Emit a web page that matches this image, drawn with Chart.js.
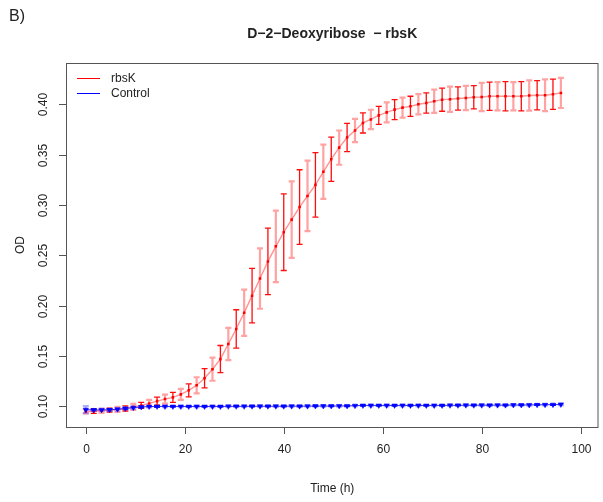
<!DOCTYPE html>
<html>
<head>
<meta charset="utf-8">
<script src="https://cdn.jsdelivr.net/npm/chart.js@4.4.0/dist/chart.umd.min.js"></script>
<style>
  body { margin: 0; background: #fff; }
  canvas { display: block; }
</style>
</head>
<body>
<canvas id="growth" width="603" height="502"></canvas>
<script>
// Growth curve data (OD readings every 1.6 h)
const timeH = [0, 1.6, 3.2, 4.8, 6.4, 8, 9.6, 11.2, 12.8, 14.4, 16, 17.6, 19.2, 20.8, 22.4, 24, 25.6, 27.2, 28.8, 30.4,
  32, 33.6, 35.2, 36.8, 38.4, 40, 41.6, 43.2, 44.8, 46.4, 48, 49.6, 51.2, 52.8, 54.4, 56, 57.6, 59.2, 60.8, 62.4,
  64, 65.6, 67.2, 68.8, 70.4, 72, 73.6, 75.2, 76.8, 78.4, 80, 81.6, 83.2, 84.8, 86.4, 88, 89.6, 91.2, 92.8, 94.4, 96];

const rbsK = [0.0950, 0.0952, 0.0957, 0.0963, 0.0970, 0.0980, 0.0995, 0.1010, 0.1030, 0.1053, 0.1073, 0.1090, 0.1120,
  0.1160, 0.1210, 0.1280, 0.1370, 0.1470, 0.1620, 0.1770, 0.1930, 0.2100, 0.2270, 0.2440, 0.2590, 0.2730, 0.2855,
  0.2980, 0.3090, 0.3200, 0.3330, 0.3455, 0.3570, 0.3670, 0.3740, 0.3815, 0.3850, 0.3890, 0.3920, 0.3947, 0.3967,
  0.3980, 0.4000, 0.4013, 0.4030, 0.4046, 0.4050, 0.4057, 0.4063, 0.4070, 0.4073, 0.4080, 0.4080, 0.4080, 0.4080,
  0.4080, 0.4087, 0.4090, 0.4090, 0.4100, 0.4113];

const rbsKErr = [0.002, 0.002, 0.002, 0.002, 0.0025, 0.0025, 0.003, 0.003, 0.0035, 0.004, 0.0045, 0.005, 0.0055,
  0.0065, 0.008, 0.0095, 0.0115, 0.0135, 0.016, 0.019, 0.023, 0.027, 0.030, 0.033, 0.0355, 0.038, 0.038,
  0.037, 0.035, 0.032, 0.027, 0.022, 0.017, 0.014, 0.0115, 0.010, 0.0096, 0.009, 0.010, 0.010, 0.010,
  0.010, 0.010, 0.010, 0.0115, 0.0115, 0.0125, 0.0115, 0.012, 0.0115, 0.014, 0.014, 0.014, 0.0145, 0.014,
  0.0145, 0.015, 0.0145, 0.0157, 0.015, 0.015];

const control = [0.0968, 0.0965, 0.0966, 0.0967, 0.0972, 0.0980, 0.0988, 0.0995, 0.0999, 0.1000, 0.1000, 0.1000,
  0.1000, 0.1000, 0.1000, 0.1000, 0.1000, 0.1000, 0.1001, 0.1001, 0.1001, 0.1002, 0.1002, 0.1002, 0.1002, 0.1002,
  0.1003, 0.1003, 0.1003, 0.1004, 0.1004, 0.1004, 0.1005, 0.1005, 0.1008, 0.1010, 0.1010, 0.1010, 0.1010, 0.1010,
  0.1010, 0.1010, 0.1010, 0.1010, 0.1010, 0.1010, 0.1011, 0.1011, 0.1012, 0.1012, 0.1012, 0.1013, 0.1013, 0.1013,
  0.1014, 0.1014, 0.1015, 0.1016, 0.1017, 0.1018, 0.1020];

const controlErr = [0.0035, 0.001, 0.001, 0.001, 0.001, 0.001, 0.001, 0.0008, 0.0008, 0.0008, 0.0006, 0.0006,
  0.0006, 0.0006, 0.0006, 0.0006, 0.0006, 0.0006, 0.0006, 0.0006, 0.0006, 0.0006, 0.0006, 0.0006, 0.0006, 0.0006,
  0.0006, 0.0006, 0.0006, 0.0006, 0.0006, 0.0006, 0.0006, 0.0006, 0.0006, 0.0006, 0.0006, 0.0006, 0.0006, 0.0006,
  0.0006, 0.0006, 0.0006, 0.0006, 0.0006, 0.0006, 0.0006, 0.0006, 0.0006, 0.0006, 0.0006, 0.0006, 0.0006, 0.0006,
  0.0006, 0.0006, 0.0006, 0.0006, 0.0006, 0.0006, 0.0008];

const xTicks = [0, 20, 40, 60, 80, 100];
const yTicks = [0.10, 0.15, 0.20, 0.25, 0.30, 0.35, 0.40];

const FONT = '"Liberation Sans", Arial, Helvetica, sans-serif';

function pts(ys) {
  return timeH.map((t, i) => ({ x: t, y: ys[i] }));
}

// error bars, alternating solid and faded strokes
const errorBars = {
  id: 'errorBars',
  beforeDatasetsDraw(chart) {
    const ctx = chart.ctx;
    const xs = chart.scales.x, ys = chart.scales.y;
    const sets = [
      { vals: rbsK, err: rbsKErr, a: 'rgba(255,0,0,0.95)', b: 'rgba(255,70,70,0.5)' },
      { vals: control, err: controlErr, a: 'rgba(0,0,255,0.9)', b: 'rgba(90,90,255,0.5)' }
    ];
    ctx.save();
    sets.forEach(s => {
      s.vals.forEach((v, i) => {
        const px = xs.getPixelForValue(timeH[i]);
        const top = ys.getPixelForValue(v + s.err[i]);
        const bot = ys.getPixelForValue(v - s.err[i]);
        const odd = i % 2 === 1;
        ctx.strokeStyle = odd ? s.a : s.b;
        ctx.lineWidth = odd ? 1.3 : 2.2;
        ctx.beginPath();
        ctx.moveTo(px, top); ctx.lineTo(px, bot);
        ctx.moveTo(px - 3, top); ctx.lineTo(px + 3, top);
        ctx.moveTo(px - 3, bot); ctx.lineTo(px + 3, bot);
        ctx.stroke();
      });
    });
    ctx.restore();
  }
};

// R-style frame, axes, labels and legend
const baseFrame = {
  id: 'baseFrame',
  afterDraw(chart) {
    const ctx = chart.ctx;
    const a = chart.chartArea;
    const xs = chart.scales.x, ys = chart.scales.y;
    ctx.save();
    ctx.strokeStyle = '#555';
    ctx.lineWidth = 1;
    ctx.strokeRect(a.left + 0.5, a.top + 0.5, a.right - a.left - 1, a.bottom - a.top);

    ctx.fillStyle = '#222';
    ctx.font = '12px ' + FONT;
    ctx.textAlign = 'center';
    ctx.textBaseline = 'middle';
    xTicks.forEach(t => {
      const px = Math.round(xs.getPixelForValue(t)) + 0.5;
      ctx.beginPath();
      ctx.moveTo(px, a.bottom); ctx.lineTo(px, a.bottom + 7);
      ctx.stroke();
      ctx.fillText(String(t), px, a.bottom + 23);
    });
    yTicks.forEach(t => {
      const py = Math.round(ys.getPixelForValue(t)) + 0.5;
      ctx.beginPath();
      ctx.moveTo(a.left, py); ctx.lineTo(a.left - 7, py);
      ctx.stroke();
      ctx.save();
      ctx.translate(a.left - 22, py);
      ctx.rotate(-Math.PI / 2);
      ctx.fillText(t.toFixed(2), 0, 0);
      ctx.restore();
    });

    // axis titles
    ctx.fillText('Time (h)', (a.left + a.right) / 2, 489);
    ctx.save();
    ctx.translate(21, (a.top + a.bottom) / 2);
    ctx.rotate(-Math.PI / 2);
    ctx.fillText('OD', 0, 0);
    ctx.restore();

    // main title and panel letter
    ctx.font = 'bold 14px ' + FONT;
    ctx.fillText('D\u22122\u2212Deoxyribose  \u2212 rbsK', (a.left + a.right) / 2, 34);
    ctx.font = '16px ' + FONT;
    ctx.textAlign = 'left';
    ctx.fillText('B)', 9, 17);

    // legend
    ctx.font = '12px ' + FONT;
    const legend = [['rbsK', 'red'], ['Control', 'blue']];
    legend.forEach((l, i) => {
      const ly = 78.5 + i * 15;
      ctx.strokeStyle = l[1];
      ctx.beginPath();
      ctx.moveTo(77, ly); ctx.lineTo(100, ly);
      ctx.stroke();
      ctx.fillStyle = '#222';
      ctx.fillText(l[0], 111, ly);
    });
    ctx.restore();
  }
};

new Chart(document.getElementById('growth'), {
  type: 'line',
  data: {
    datasets: [
      {
        label: 'Control',
        data: pts(control),
        borderColor: 'rgba(0,0,255,0.8)',
        borderWidth: 1,
        pointStyle: 'triangle',
        rotation: 180,
        pointRadius: 3,
        pointBackgroundColor: 'blue',
        pointBorderColor: 'blue',
        pointBorderWidth: 0.5,
        order: 0
      },
      {
        label: 'rbsK',
        data: pts(rbsK),
        borderColor: 'rgba(255,60,60,0.55)',
        borderWidth: 1.4,
        pointStyle: 'rect',
        pointRadius: 1.8,
        pointBackgroundColor: 'red',
        pointBorderColor: 'red',
        pointBorderWidth: 0,
        order: 1
      }
    ]
  },
  options: {
    responsive: false,
    animation: false,
    devicePixelRatio: 1,
    layout: { padding: { left: 66, right: 3, top: 63, bottom: 75 } },
    scales: {
      x: { type: 'linear', min: -4, max: 103.6, display: false },
      y: { type: 'linear', min: 0.0796, max: 0.441, display: false }
    },
    plugins: {
      legend: { display: false },
      tooltip: { enabled: false }
    }
  },
  plugins: [errorBars, baseFrame]
});
</script>
</body>
</html>
